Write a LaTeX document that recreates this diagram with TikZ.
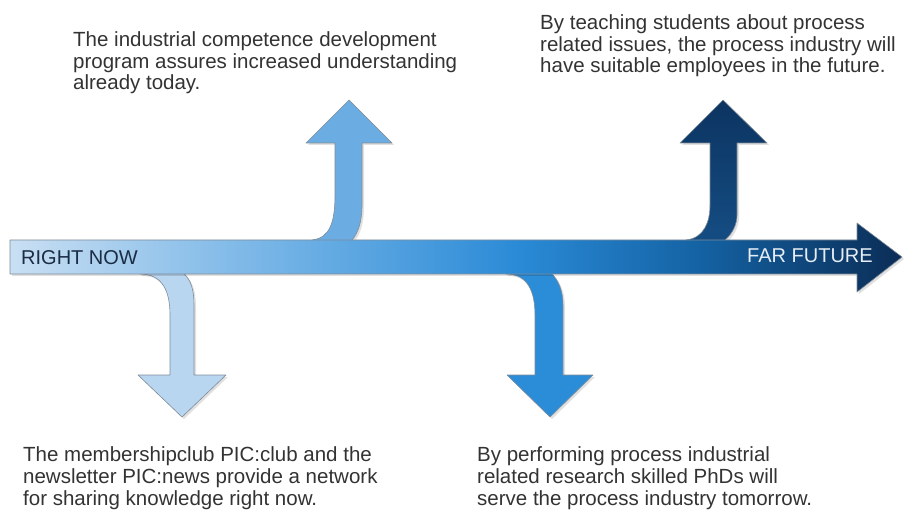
\documentclass[tikz,border=0pt]{standalone}
\usepackage{fontspec}
\setmainfont{Liberation Sans}
\definecolor{mA}{HTML}{C9DFF3}
\definecolor{mB}{HTML}{6EB0E5}
\definecolor{mC}{HTML}{2A8AD6}
\definecolor{mD}{HTML}{1462A3}
\definecolor{mE}{HTML}{0B2D56}
\definecolor{aOne}{HTML}{B9D6F0}
\definecolor{aTwo}{HTML}{6BADE3}
\definecolor{aThree}{HTML}{2B8CD8}
\definecolor{aFourTop}{HTML}{0C3461}
\definecolor{aFourBot}{HTML}{154E84}
\definecolor{edge}{HTML}{7F8C99}
\definecolor{txt}{HTML}{333333}
\definecolor{navy}{HTML}{1B2C45}
\definecolor{pale}{HTML}{E6EDF5}
\pgfdeclarehorizontalshading{mainshade}{100bp}{color(0bp)=(mA); color(25bp)=(mA); color(41bp)=(mB); color(53.6bp)=(mC); color(63.7bp)=(mD); color(75bp)=(mE); color(100bp)=(mE)}
\begin{document}
\begin{tikzpicture}[x=1pt,y=-1pt,
  arrowshape/.style={draw=edge, line width=0.6pt, line join=round},
  shadowshape/.style={fill=black, opacity=0.12, draw=none},
  body/.style={anchor=base west, inner sep=0pt, align=left, text=txt,
    font=\fontsize{20.5pt}{21.7pt}\selectfont},
  label/.style={anchor=base west, inner sep=0pt,
    font=\fontsize{20pt}{22pt}\selectfont}]
\useasboundingbox (0,0) rectangle (904,518);
\fill[white] (0,0) rectangle (904,518);

% arrow 1: down, light
\def\arrowOne{(140,266) -- (140,274) .. controls (163,274) and (170,292) .. (170,315) -- (170,375) -- (138,375) -- (182,417) -- (226,375) -- (194,375) -- (194,305) .. controls (194,290) and (191,280) .. (184,274) -- (184,266) -- cycle}
% arrow 2: up, medium
\def\arrowTwo{(312,248) -- (312,240) .. controls (330,238) and (335,222) .. (335,195) -- (335,143) -- (306,143) -- (349,100) -- (392,143) -- (362,143) -- (362,205) .. controls (362,222) and (358,233) .. (352,240) -- (352,248) -- cycle}
% arrow 3: down, bright
\def\arrowThree{(506,266) -- (506,274) .. controls (528,274) and (535,292) .. (535,315) -- (535,375) -- (507,375) -- (550,417) -- (593,375) -- (563,375) -- (563,305) .. controls (563,290) and (558,280) .. (552,274) -- (552,266) -- cycle}
% arrow 4: up, dark
\def\arrowFour{(686,248) -- (686,240) .. controls (704,238) and (710,222) .. (710,205) -- (710,143) -- (680,143) -- (723,100) -- (767,143) -- (737,143) -- (737,215) .. controls (737,225) and (732,234) .. (725,240) -- (725,248) -- cycle}
% main arrow
\def\arrowMain{(10,240) -- (857,240) -- (857,223) -- (902,257) -- (857,292) -- (857,274) -- (10,274) -- cycle}

\begin{scope}[shift={(2,2)}]
  \fill[shadowshape] \arrowOne;
  \fill[shadowshape] \arrowTwo;
  \fill[shadowshape] \arrowThree;
  \fill[shadowshape] \arrowFour;
\end{scope}
\path[arrowshape, fill=aOne] \arrowOne;
\path[arrowshape, fill=aTwo] \arrowTwo;
\path[arrowshape, fill=aThree] \arrowThree;
\path[arrowshape, top color=aFourTop, bottom color=aFourBot] \arrowFour;

\fill[shadowshape, shift={(2,2)}] \arrowMain;
\path[arrowshape, shading=mainshade] \arrowMain;

\node[label, text=navy] (now) at (21,265) {RIGHT NOW};
\node[label, text=pale] (far) at (747,263) {FAR FUTURE};

% base anchor = baseline of the last line
\node[body] (t1) at (73,90) {The industrial competence development\\program assures increased understanding\\already today.};
\node[body] (t2) at (540,73) {By teaching students about process\\related issues, the process industry will\\have suitable employees in the future.};
\node[body] (t3) at (23,505) {The membershipclub PIC:club and the\\newsletter PIC:news provide a network\\for sharing knowledge right now.};
\node[body] (t4) at (477,505) {By performing process industrial\\related research skilled PhDs will\\serve the process industry tomorrow.};
\end{tikzpicture}
\end{document}
